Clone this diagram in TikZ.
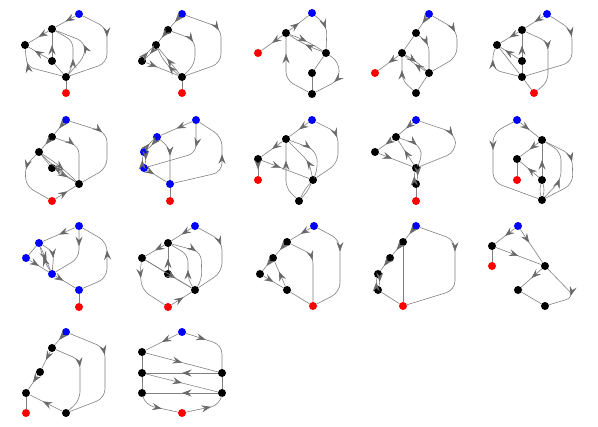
\documentclass[tikz,border=0pt]{standalone}
\usetikzlibrary{arrows.meta,decorations.markings}
\definecolor{eg}{RGB}{128,128,128}
\definecolor{ag}{RGB}{105,105,105}
\tikzset{
  dot/.style={circle, inner sep=0pt, minimum size=8pt, draw=none},
  bk/.style={dot, fill=black},
  bu/.style={dot, fill=blue},
  rd/.style={dot, fill=red},
  l/.style={draw=eg, line width=0.6pt},
  e/.style={draw=eg, line width=0.6pt, postaction={decorate, decoration={markings,
      mark=at position #1 with {\arrow[ag]{Stealth[length=9.5pt,width=7pt,inset=3.5pt]}}}}},
  e/.default=0.5,
}
\begin{document}
\begin{tikzpicture}[x=1pt,y=-1pt]
\useasboundingbox (0,0) rectangle (598,427);
% ---------- Graph 1
\node[bu] (g1bl) at (79,14) {};
\node[bk] (g1a) at (52,29) {};
\node[bk] (g1b) at (25,45) {};
\node[bk] (g1c) at (52,61) {};
\node[bk] (g1d) at (66,77) {};
\node[rd] (g1r) at (66,93) {};
\draw[e] (g1bl) -- (g1a);
\draw[e=0.35, rounded corners=9pt] (g1bl) -- (107,28) -- (107,63) -- (g1d);
\draw[e] (g1a) -- (g1b);
\draw[e] (g1c) -- (g1a);
\draw[e=0.3, rounded corners=7pt] (g1d) -- (73,66) -- (73,41) -- (g1a);
\draw[e=0.55, rounded corners=8pt] (g1d) -- (85,56) -- (85,42) -- (g1a);
\draw[e=0.7] (g1c) -- (g1b);
\draw[e=0.75, rounded corners=6pt] (g1d) -- (28,67) -- (26,58) -- (g1b);
\draw[l] (g1c) -- (g1d);
\draw[l] (g1d) -- (g1r);
% ---------- Graph 2
\node[bu] (g2bl) at (182,14) {};
\node[bk] (g2a) at (168,30) {};
\node[bk] (g2b) at (156,45) {};
\node[bk] (g2c) at (142,61) {};
\node[bk] (g2d) at (182,77) {};
\node[rd] (g2r) at (182,93) {};
\draw[e] (g2bl) -- (g2a);
\draw[e=0.35, rounded corners=9pt] (g2bl) -- (221,28) -- (221,63) -- (g2d);
\draw[e] (g2a) -- (g2b);
\draw[e=0.4, rounded corners=8pt] (g2a) -- (195,40) -- (195,64) -- (g2d);
\draw[e, bend left=10] (g2b) to (g2c);
\draw[e, bend left=10] (g2c) to (g2b);
\draw[e=0.35] (g2c) -- (g2d);
\draw[e=0.6] (g2d) -- (g2b);
\draw[e=0.4, bend left=15] (g2d) to (g2b);
\draw[l] (g2d) -- (g2r);
% ---------- Graph 3
\node[bu] (g3bl) at (312,13) {};
\node[bk] (g3a) at (286,33) {};
\node[rd] (g3r) at (258,53) {};
\node[bk] (g3b) at (326,53) {};
\node[bk] (g3c) at (312,73) {};
\node[bk] (g3d) at (312,94) {};
\draw[e] (g3a) -- (g3bl);
\draw[e=0.45, rounded corners=8pt] (g3bl) -- (327,26) -- (g3b);
\draw[e] (g3a) -- (g3r);
\draw[e, bend left=6] (g3a) to (g3b);
\draw[e, bend left=6] (g3b) to (g3a);
\draw[e=0.75, rounded corners=8pt] (g3d) -- (286,80) -- (g3a);
\draw[l] (g3b) -- (g3c);
\draw[e=0.6, rounded corners=8pt] (g3b) -- (339,62) -- (339,80) -- (g3d);
\draw[l] (g3c) -- (g3d);
% ---------- Graph 4
\node[bu] (g4bl) at (429,14) {};
\node[bk] (g4a) at (416,33) {};
\node[bk] (g4b) at (402,53) {};
\node[rd] (g4r) at (375,73) {};
\node[bk] (g4c) at (429,73) {};
\node[bk] (g4d) at (416,93) {};
\draw[e] (g4bl) -- (g4a);
\draw[e=0.35, rounded corners=9pt] (g4bl) -- (457,30) -- (457,57) -- (g4c);
\draw[e=0.35, rounded corners=7pt] (g4a) -- (429,44) -- (g4c);
\draw[l] (g4a) -- (g4b);
\draw[e] (g4b) -- (g4r);
\draw[e, bend left=6] (g4b) to (g4c);
\draw[e, bend left=6] (g4c) to (g4b);
\draw[e=0.65, rounded corners=7pt] (g4d) -- (402,80) -- (g4b);
\draw[l] (g4c) -- (g4d);
% ---------- Graph 5
\node[bu] (g5bl) at (547,14) {};
\node[bk] (g5a) at (522,30) {};
\node[bk] (g5b) at (497,45) {};
\node[bk] (g5c) at (522,61) {};
\node[bk] (g5d) at (522,77) {};
\node[rd] (g5r) at (534,93) {};
\draw[e] (g5bl) -- (g5a);
\draw[e=0.3, rounded corners=9pt] (g5bl) -- (572,30) -- (572,62) -- (g5d);
\draw[e] (g5a) -- (g5b);
\draw[e] (g5c) -- (g5a);
\draw[e=0.4, rounded corners=8pt] (g5a) -- (548,42) -- (548,82) -- (g5r);
\draw[e=0.75] (g5c) -- (g5b);
\draw[l] (g5b) -- (g5d);
\draw[e=0.75, rounded corners=7pt] (g5d) -- (494,70) -- (492,55) -- (g5b);
\draw[l] (g5c) -- (g5d);
\draw[l] (g5d) -- (g5r);
% ---------- Graph 6
\node[bu] (g6bl) at (66,120) {};
\node[bk] (g6a) at (52,137) {};
\node[bk] (g6b) at (39,152) {};
\node[bk] (g6c) at (52,168) {};
\node[bk] (g6d) at (79,184) {};
\node[rd] (g6r) at (52,201) {};
\draw[e] (g6bl) -- (g6a);
\draw[e=0.35, rounded corners=9pt] (g6bl) -- (107,133) -- (107,168) -- (g6d);
\draw[e=0.35, rounded corners=8pt] (g6a) -- (79,146) -- (g6d);
\draw[e] (g6a) -- (g6b);
\draw[e=0.3, rounded corners=8pt] (g6b) -- (25,166) -- (26,186) -- (g6r);
\draw[l] (g6b) -- (g6c);
\draw[e=0.6] (g6c) -- (g6d);
\draw[e=0.6, bend left=6] (g6b) to (g6d);
\draw[e=0.6, bend left=6] (g6d) to (g6b);
\draw[e=0.6] (g6r) -- (g6d);
% ---------- Graph 7
\node[bu] (g7p) at (196,120) {};
\node[bu] (g7q) at (157,137) {};
\node[bu] (g7s) at (144,152) {};
\node[bu] (g7t) at (144,168) {};
\node[bu] (g7u) at (170,184) {};
\node[rd] (g7r) at (170,201) {};
\draw[e] (g7p) -- (g7q);
\draw[e=0.3, rounded corners=8pt] (g7p) -- (196,153) -- (g7t);
\draw[e, bend left=10] (g7q) to (g7s);
\draw[e, bend left=10] (g7s) to (g7q);
\draw[e, bend left=15] (g7s) to (g7t);
\draw[e, bend left=15] (g7t) to (g7s);
\draw[e=0.45, rounded corners=8pt] (g7q) -- (170,148) -- (g7u);
\draw[e=0.35] (g7t) -- (g7u);
\draw[e=0.6, rounded corners=9pt] (g7u) -- (222,172) -- (222,137) -- (g7p);
\draw[l] (g7u) -- (g7r);
% ---------- Graph 8
\node[bu] (g8bl) at (312,120) {};
\node[bk] (g8a) at (286,139) {};
\node[bk] (g8b) at (258,159) {};
\node[rd] (g8r) at (258,180) {};
\node[bk] (g8c) at (313,180) {};
\node[bk] (g8d) at (299,201) {};
\draw[e] (g8bl) -- (g8a);
\draw[e=0.35, rounded corners=9pt] (g8bl) -- (338,133) -- (338,163) -- (g8c);
\draw[e] (g8a) -- (g8b);
\draw[e] (g8b) -- (g8r);
\draw[e=0.4] (g8b) -- (g8c);
\draw[e=0.4, rounded corners=9pt] (g8a) -- (316,150) -- (318,170) -- (g8c);
\draw[e=0.4, rounded corners=7pt] (g8c) -- (309,162) -- (g8a);
\draw[e=0.7, rounded corners=7pt] (g8d) -- (286,188) -- (g8a);
\draw[l, bend left=8] (g8c) to (g8d);
\draw[l, bend left=8] (g8d) to (g8c);
% ---------- Graph 9
\node[bu] (g9bl) at (416,120) {};
\node[bk] (g9a) at (396,137) {};
\node[bk] (g9b) at (375,152) {};
\node[bk] (g9c) at (416,168) {};
\node[bk] (g9d) at (416,184) {};
\node[rd] (g9r) at (416,201) {};
\draw[e] (g9bl) -- (g9a);
\draw[e=0.4, rounded corners=10pt] (g9bl) -- (455,133) -- (456,152) -- (g9c);
\draw[e] (g9a) -- (g9b);
\draw[e=0.4, rounded corners=8pt] (g9a) -- (420,145) -- (422,160) -- (g9c);
\draw[e=0.6] (g9c) -- (g9a);
\draw[e=0.4] (g9b) -- (g9c);
\draw[e, bend left=15] (g9c) to (g9d);
\draw[e, bend left=15] (g9d) to (g9c);
\draw[l] (g9d) -- (g9r);
% ---------- Graph 10
\node[bu] (g10bl) at (517,120) {};
\node[bk] (g10a) at (542,140) {};
\node[bk] (g10b) at (517,159) {};
\node[rd] (g10r) at (517,180) {};
\node[bk] (g10c) at (542,180) {};
\node[bk] (g10d) at (542,200) {};
\draw[e] (g10bl) -- (g10a);
\draw[e=0.33, rounded corners=9pt] (g10bl) -- (493,133) -- (493,182) -- (g10d);
\draw[e] (g10a) -- (g10b);
\draw[l] (g10b) -- (g10r);
\draw[e=0.6] (g10c) -- (g10b);
\draw[e] (g10c) -- (g10a);
\draw[e=0.35, rounded corners=8pt] (g10d) -- (561,180) -- (561,152) -- (g10a);
\draw[e=0.4, rounded corners=9pt] (g10a) -- (572,155) -- (573,184) -- (g10d);
\draw[l, bend left=15] (g10c) to (g10d);
\draw[l, bend left=15] (g10d) to (g10c);
% ---------- Graph 11
\node[bu] (g11p) at (79,226) {};
\node[bu] (g11q) at (39,243) {};
\node[bu] (g11s) at (26,258) {};
\node[bu] (g11t) at (52,274) {};
\node[bu] (g11u) at (79,290) {};
\node[rd] (g11r) at (79,307) {};
\draw[e] (g11p) -- (g11q);
\draw[e=0.3, rounded corners=8pt] (g11p) -- (79,258) -- (g11t);
\draw[l] (g11q) -- (g11s);
\draw[e] (g11s) -- (g11t);
\draw[e=0.6] (g11q) -- (g11t);
\draw[e=0.6, bend left=8] (g11t) to (g11q);
\draw[e=0.6, rounded corners=8pt] (g11q) -- (54,252) -- (g11t);
\draw[e=0.4] (g11t) -- (g11u);
\draw[e=0.6, rounded corners=9pt] (g11u) -- (107,278) -- (107,242) -- (g11p);
\draw[l] (g11u) -- (g11r);
% ---------- Graph 12
\node[bu] (g12bl) at (195,226) {};
\node[bk] (g12a) at (168,243) {};
\node[bk] (g12b) at (142,258) {};
\node[bk] (g12c) at (168,274) {};
\node[bk] (g12d) at (195,290) {};
\node[rd] (g12r) at (168,307) {};
\draw[e] (g12bl) -- (g12a);
\draw[e=0.35, rounded corners=9pt] (g12bl) -- (222,241) -- (222,272) -- (g12d);
\draw[e] (g12a) -- (g12b);
\draw[e] (g12c) -- (g12a);
\draw[e=0.4, rounded corners=8pt] (g12a) -- (201,252) -- (202,280) -- (g12d);
\draw[e=0.35, rounded corners=7pt] (g12d) -- (188,280) -- (188,255) -- (g12a);
\draw[l] (g12b) -- (g12c);
\draw[e=0.66] (g12b) -- (g12d);
\draw[e=0.3, rounded corners=8pt] (g12b) -- (140,270) -- (142,290) -- (g12r);
\draw[e=0.6] (g12r) -- (g12d);
\draw[l] (g12c) -- (g12d);
% ---------- Graph 13
\node[bu] (g13bl) at (314,226) {};
\node[bk] (g13a) at (287,242) {};
\node[bk] (g13b) at (273,258) {};
\node[bk] (g13c) at (260,274) {};
\node[bk] (g13d) at (287,290) {};
\node[rd] (g13r) at (313,306) {};
\draw[e] (g13bl) -- (g13a);
\draw[e=0.35, rounded corners=9pt] (g13bl) -- (340,240) -- (340,292) -- (g13r);
\draw[e] (g13a) -- (g13b);
\draw[e] (g13b) -- (g13c);
\draw[e=0.4, rounded corners=8pt] (g13a) -- (313,255) -- (313,280) -- (g13r);
\draw[e] (g13c) -- (g13d);
\draw[e=0.6] (g13d) -- (g13b);
\draw[l] (g13d) -- (g13r);
% ---------- Graph 14
\node[bu] (g14bl) at (416,226) {};
\node[bk] (g14a) at (403,242) {};
\node[bk] (g14b) at (390,258) {};
\node[bk] (g14c) at (378,274) {};
\node[bk] (g14d) at (378,290) {};
\node[rd] (g14r) at (403,306) {};
\draw[e] (g14bl) -- (g14a);
\draw[e=0.35, rounded corners=9pt] (g14bl) -- (455,240) -- (455,290) -- (g14r);
\draw[e] (g14a) -- (g14b);
\draw[e] (g14b) -- (g14c);
\draw[l] (g14a) -- (g14r);
\draw[e, bend left=15] (g14c) to (g14d);
\draw[e, bend left=15] (g14d) to (g14c);
\draw[l] (g14d) -- (g14r);
% ---------- Graph 15
\node[bu] (g15bl) at (518,226) {};
\node[bk] (g15a) at (492,246) {};
\node[rd] (g15r) at (492,266) {};
\node[bk] (g15b) at (545,266) {};
\node[bk] (g15c) at (518,290) {};
\node[bk] (g15d) at (545,306) {};
\draw[e] (g15bl) -- (g15a);
\draw[e=0.4] (g15bl) -- (g15b);
\draw[l] (g15a) -- (g15r);
\draw[e=0.5] (g15a) -- (g15b);
\draw[e=0.5] (g15b) -- (g15c);
\draw[l] (g15c) -- (g15d);
\draw[e=0.6, rounded corners=9pt] (g15b) -- (575,297) -- (g15d);
% ---------- Graph 16
\node[bu] (g16bl) at (66,332) {};
\node[bk] (g16a) at (52,348) {};
\node[bk] (g16b) at (40,372) {};
\node[bk] (g16c) at (26,393) {};
\node[rd] (g16r) at (26,413) {};
\node[bk] (g16d) at (66,413) {};
\draw[e] (g16bl) -- (g16a);
\draw[e=0.35, rounded corners=9pt] (g16bl) -- (105,348) -- (105,398) -- (g16d);
\draw[e] (g16a) -- (g16b);
\draw[e] (g16b) -- (g16c);
\draw[l] (g16c) -- (g16r);
\draw[e=0.6] (g16d) -- (g16c);
\draw[e=0.4, rounded corners=8pt] (g16a) -- (80,360) -- (80,400) -- (g16d);
% ---------- Graph 17
\node[bu] (g17bl) at (182,332) {};
\node[bk] (g17a) at (142,352) {};
\node[bk] (g17b) at (142,373) {};
\node[bk] (g17c) at (142,393) {};
\node[bk] (g17d) at (222,373) {};
\node[bk] (g17f) at (222,393) {};
\node[rd] (g17r) at (182,413) {};
\draw[e] (g17bl) -- (g17a);
\draw[e=0.35, rounded corners=9pt] (g17bl) -- (222,345) -- (g17d);
\draw[e] (g17a) -- (g17d);
\draw[e] (g17d) -- (g17b);
\draw[e] (g17b) -- (g17f);
\draw[e] (g17f) -- (g17c);
\draw[l] (g17a) -- (g17b);
\draw[l] (g17b) -- (g17c);
\draw[l] (g17d) -- (g17f);
\draw[e=0.6, rounded corners=9pt] (g17c) -- (145,405) -- (g17r);
\draw[e=0.6, rounded corners=9pt] (g17r) -- (220,405) -- (g17f);
\end{tikzpicture}
\end{document}
